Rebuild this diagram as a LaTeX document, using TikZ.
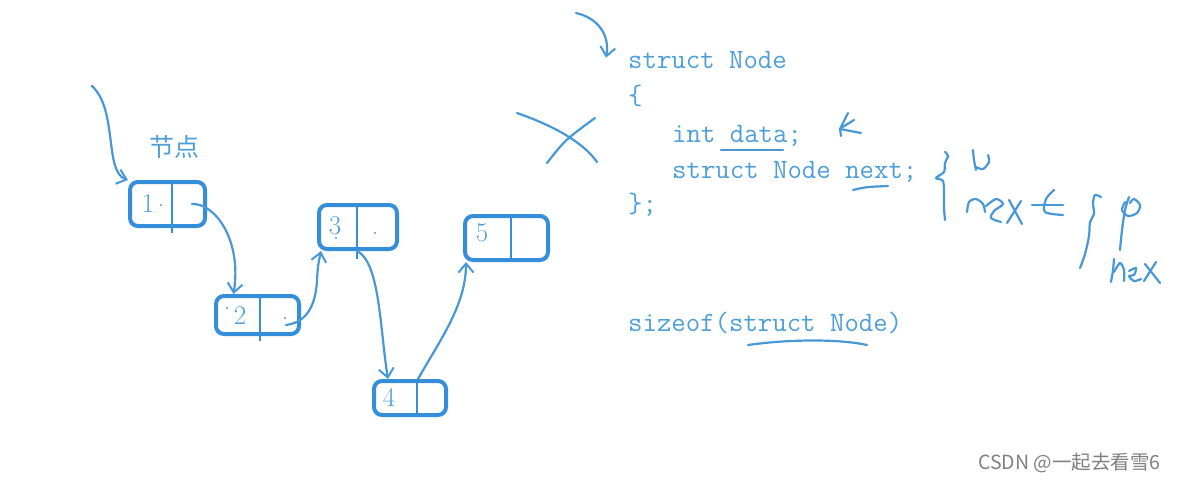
\documentclass[tikz,border=0pt]{standalone}
\usepackage{fontspec}
\newfontfamily\cjkfont{Noto Sans CJK SC}
\usetikzlibrary{arrows.meta,positioning,calc}
\definecolor{PenBlue}{RGB}{72,152,215}
\definecolor{BoxBlue}{RGB}{52,142,218}
\definecolor{CodeBlue}{RGB}{78,158,218}
\definecolor{MarkGray}{RGB}{128,128,128}

\begin{document}
\begin{tikzpicture}[
        x=1pt, y=-1pt,
        cell/.style={draw=BoxBlue, line width=4pt, rounded corners=8pt, inner sep=0pt},
        divider/.style={draw=BoxBlue, line width=1.8pt},
        num/.style={text=CodeBlue, font=\fontsize{27}{27}\selectfont, inner sep=0pt},
        code/.style={text=CodeBlue, font=\ttfamily\fontsize{28}{30}\selectfont, anchor=base west, inner sep=0pt},
        pen/.style={draw=PenBlue, line width=2.2pt, line cap=round, line join=round},
        speck/.style={fill=PenBlue},
        link/.style={pen, -{Straight Barb[length=9pt,width=15pt,line width=2pt]}}
    ]
        \fill[white] (0,0) rectangle (1177,482);

        \node[cell, minimum width=75pt, minimum height=44pt] (n1) at (167.5,204) {};
        \node[cell, minimum width=83pt, minimum height=38pt] (n2) at (257.5,315) {};
        \node[cell, minimum width=78pt, minimum height=44pt] (n3) at (358,227)   {};
        \node[cell, minimum width=72pt, minimum height=34pt] (n4) at (410,398)   {};
        \node[cell, minimum width=83pt, minimum height=44pt] (n5) at (506.5,238) {};
        \draw[divider] ([xshift=4.5pt]n1.north) -- ([xshift=4.5pt,yshift=-5pt]n1.south);
        \draw[divider] ([xshift=2.5pt]n2.north) -- ([xshift=2.5pt,yshift=-5pt]n2.south);
        \draw[divider] ([xshift=-1pt]n3.north)  -- ([xshift=-1pt,yshift=-8pt]n3.south);
        \draw[divider] ([xshift=7pt]n4.north)   -- ([xshift=7pt]n4.south);
        \draw[divider] ([xshift=4.5pt]n5.north) -- ([xshift=4.5pt]n5.south);

        \node[num] (d1) at (148,204) {1};
        \node[num] (d2) at (240,316) {2};
        \node[num] (d3) at (335,226) {3};
        \node[num] (d4) at (389,397) {4};
        \node[num] (d5) at (482,233) {5};
        \fill[speck] (161,205) circle (1.2);
        \fill[speck] (227,308) circle (1.2);
        \fill[speck] (285,318) circle (1.2);
        \fill[speck] (336,238) circle (1.2);
        \fill[speck] (375,233) circle (1.2);

        \node[text=CodeBlue, font=\cjkfont\fontsize{25}{25}\selectfont, inner sep=0pt] (tag) at (174,147) {节点};

        \coordinate (head) at (92,86);
        \path[link] (head) .. controls (118,110) and (104,172) .. (n1.north west);
        \path[link] ([xshift=-15pt]n1.east) .. controls (215,203) and (242,240) .. ([xshift=-24pt]n2.north);
        \path[link] ([xshift=-15pt,yshift=-10pt]n2.east) .. controls (310,322) and (316,300) .. (317,280)
            .. controls (318,265) .. ([xshift=4pt]n3.south west);
        \path[link] ([xshift=-1pt]n3.south) .. controls (380,262) and (380,330) .. ([xshift=-22pt]n4.north);
        \path[link] ([xshift=8pt]n4.north) .. controls (440,340) and (466,305) .. ([xshift=3pt]n5.south west);

        \node[code] (l1) at (628,68)  {struct Node};
        \node[code] (l2) at (628,104) {\{};
        \node[code] (l3) at (672,142) {int data;};
        \node[code] (l4) at (672,178) {struct Node next;};
        \node[code] (l5) at (628,212) {\};};
        \node[code] (l6) at (628,331) {sizeof(struct Node)};

        \coordinate (hook) at (576,13);
        \path[link] (hook) .. controls (598,18) and (610,35) .. ([xshift=-22pt,yshift=-7pt]l1.north west);

        \draw[pen] (721,150) -- (783,150);
        \draw[pen] (853,190) .. controls (865,187) .. (888,186);
        \draw[pen] (748,345) .. controls (790,339) and (840,339) .. (867,345);

        \draw[pen] (517,113) .. controls (560,128) and (585,145) .. (597,162);
        \draw[pen] (547,163) .. controls (565,140) .. (595,118);

        \draw[pen] (848,113) -- (840,129) -- (861,133);
        \draw[pen] (854,120) -- (841,128);
        \draw[pen] (840,129) -- (841,136);

        \draw[pen] plot[smooth] coordinates {(945,152) (948,156) (945,163) (944,172) (936,178) (943,181) (944,195) (944,208) (945,220)};
        \draw[pen] plot[smooth] coordinates {(973,150) (974,160) (976,170)};
        \draw[pen] plot[smooth] coordinates {(976,167) (983,169) (989,162) (988,155)};
        \draw[pen] plot[smooth] coordinates {(967,212) (969,202) (976,199) (983,204) (985,212)};
        \draw[pen] plot[smooth] coordinates {(986,206) (996,199) (1003,204) (994,211) (991,218) (1001,222)};
        \draw[pen] (1009,200) -- (1022,224);
        \draw[pen] (1021,201) -- (1007,223);
        \draw[pen] (1032,205) -- (1063,205);
        \draw[pen] plot[smooth] coordinates {(1054,190) (1046,199) (1045,212) (1063,215)};

        \draw[pen] plot[smooth] coordinates {(1101,197) (1095,195) (1093,203) (1094,214) (1090,222) (1089,236) (1085,254) (1080,268)};
        \draw[pen] plot[smooth] coordinates {(1129,197) (1125,210) (1122,230) (1120,250)};
        \draw[pen] plot[smooth] coordinates {(1125,202) (1122,210) (1128,216) (1137,213) (1140,205) (1134,199) (1130,203)};
        \draw[pen] plot[smooth] coordinates {(1111,282) (1113,270) (1114,259)};
        \draw[pen] plot[smooth] coordinates {(1114,272) (1120,263) (1124,270) (1124,281)};
        \draw[pen] plot[smooth] coordinates {(1129,271) (1136,268) (1134,275) (1129,276) (1134,281) (1141,279)};
        \draw[pen] (1145,264) -- (1160,283);
        \draw[pen] (1156,262) -- (1144,281);

        \node[anchor=west, text=MarkGray, font=\cjkfont\fontsize{19.5}{19.5}\selectfont, inner sep=0pt] (mark) at (978,463) {CSDN @一起去看雪6};
    \end{tikzpicture}
\end{document}
